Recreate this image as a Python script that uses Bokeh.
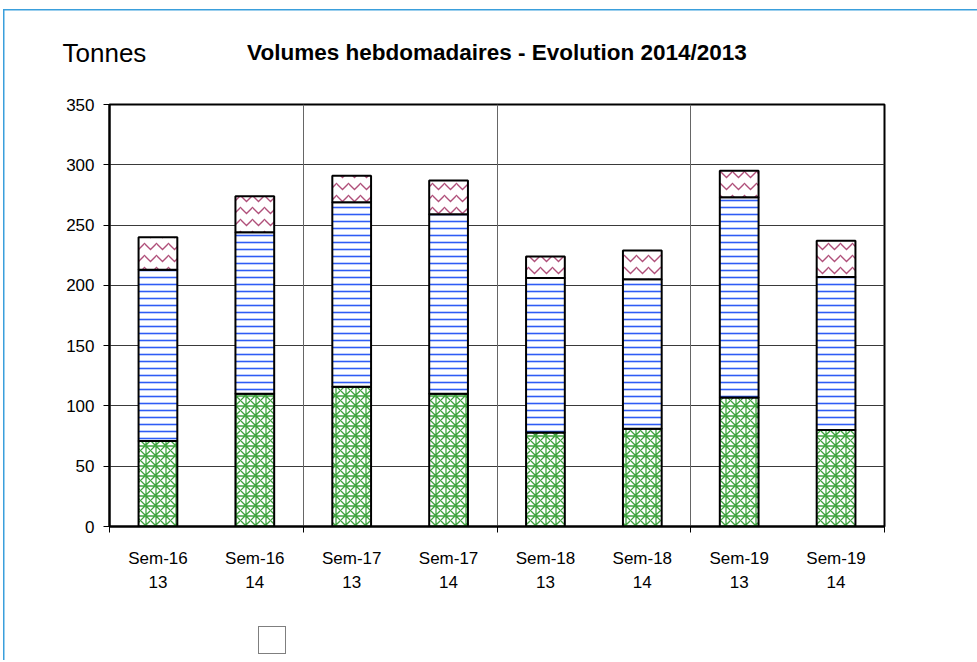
from bokeh.plotting import figure
from bokeh.layouts import column
from bokeh.models import (FixedTicker, Range1d, Grid, Legend, LegendItem, Title,
                          LinearAxis, ColumnDataSource, CDSView, IndexFilter)
from bokeh.embed import file_html
from bokeh.resources import INLINE

weeks = ["Sem-16", "Sem-16", "Sem-17", "Sem-17", "Sem-18", "Sem-18", "Sem-19", "Sem-19"]
years = ["13", "14", "13", "14", "13", "14", "13", "14"]
t1020 = [71, 110, 116, 110, 78, 81, 107, 80]
t3040 = [142, 134, 153, 149, 128, 124, 166, 127]
t50 = [27, 30, 22, 28, 18, 24, 22, 30]
series = ["T10+20", "T30+40", "T50"]
y_ticks = [0, 50, 100, 150, 200, 250, 300, 350]
title_text = "Volumes hebdomadaires - Evolution 2014/2013"
unit_text = "Tonnes"

FONT = "Liberation Sans"
BLUE = "#3a9fdc"
xs = [i + 0.5 for i in range(len(weeks))]
bounds = [float(i) for i in range(0, len(weeks) + 1, 2)]

src = ColumnDataSource(dict(x=xs, a=t1020, b=t3040, c=t50))

hatch_pat = ["*", "-", "v"]
hatch_col = ["#3fa33f", "#2f5cf5", "#b0507a"]
hatch_scale = [10, 7, 12]
hatch_w = [1.3, 1.6, 1.3]

bg_main = (f"linear-gradient({BLUE},{BLUE}) 3px 9px / 1.5px 100% no-repeat, "
           f"linear-gradient({BLUE},{BLUE}) 3px 9px / 100% 1.5px no-repeat, white")
bg_leg = f"linear-gradient({BLUE},{BLUE}) 3px 0px / 1.5px 100% no-repeat, white"

p = figure(width=977, height=596, output_backend="svg", toolbar_location=None,
           x_range=Range1d(0, len(weeks)), y_range=Range1d(0, 350),
           min_border_left=109, min_border_right=93, min_border_top=104,
           min_border_bottom=70, frame_width=775, frame_height=422,
           styles={"background": bg_main})
p.background_fill_color = "white"
p.border_fill_color = None
p.outline_line_color = "black"
p.outline_line_width = 2

renderers = p.vbar_stack(["a", "b", "c"], x="x", width=0.4, source=src,
                         fill_color="white", line_color="black", line_width=2,
                         hatch_pattern=hatch_pat, hatch_color=hatch_col,
                         hatch_scale=hatch_scale, hatch_weight=hatch_w)

# grids
p.xgrid.visible = False
p.ygrid.ticker = FixedTicker(ticks=y_ticks)
p.ygrid.grid_line_color = "#3a3a3a"
p.ygrid.grid_line_width = 1
vg = Grid(dimension=0, ticker=FixedTicker(ticks=bounds[1:-1]),
          grid_line_color="#666666", grid_line_width=1)
p.add_layout(vg)

# y axis
p.yaxis.ticker = FixedTicker(ticks=y_ticks)
p.yaxis.major_tick_in = 0
p.yaxis.major_tick_out = 6
p.yaxis.minor_tick_line_color = None
p.yaxis.axis_line_width = 2
p.yaxis.axis_line_color = "black"
p.yaxis.major_label_text_font = FONT
p.yaxis.major_label_text_font_size = "17px"
p.yaxis.major_label_text_color = "black"
p.yaxis.major_label_standoff = 9

# x axis
p.xaxis.ticker = FixedTicker(ticks=xs, minor_ticks=bounds)
p.xaxis.major_tick_out = 0
p.xaxis.major_tick_in = 0
p.xaxis.minor_tick_out = 6
p.xaxis.minor_tick_in = 0
p.xaxis.minor_tick_line_color = "black"
p.xaxis.minor_tick_line_width = 1
p.xaxis.axis_line_width = 2
p.xaxis.axis_line_color = "black"
p.xaxis.major_label_overrides = {x: f"{w}\n{y}" for x, w, y in zip(xs, weeks, years)}
p.xaxis.major_label_text_font = FONT
p.xaxis.major_label_text_font_size = "17px"
p.xaxis.major_label_text_color = "black"
p.xaxis.major_label_text_line_height = 1.3
p.xaxis.major_label_standoff = 16

# title as label of an (otherwise empty) top axis
top_axis = LinearAxis(ticker=FixedTicker(ticks=[]), axis_line_color=None,
                      major_tick_line_color=None, minor_tick_line_color=None,
                      major_label_text_font_size="1px",
                      axis_label=title_text, axis_label_text_font=FONT,
                      axis_label_text_font_size="22.5px",
                      axis_label_text_font_style="bold",
                      axis_label_text_color="black", axis_label_standoff=40)
p.add_layout(top_axis, "above")
p.title = Title(text=unit_text, align="left", offset=-47, standoff=-62,
                text_font=FONT, text_font_size="26px", text_font_style="normal",
                text_color="black")

# legend in a small strip figure below; its renderers share the data but
# draw no rows (empty view), only their legend swatches show
pl = figure(width=977, height=64, output_backend="svg", toolbar_location=None,
            x_range=Range1d(100, 101), y_range=Range1d(0, 1),
            x_axis_location=None, y_axis_location=None,
            min_border=0, min_border_left=0, min_border_right=0,
            min_border_top=0, min_border_bottom=0,
            styles={"background": bg_leg})
pl.background_fill_color = None
pl.border_fill_color = None
pl.outline_line_color = None
pl.xgrid.visible = False
pl.ygrid.visible = False
leg_r = [pl.vbar(x="x", top=col, width=0.4, source=src,
                 view=CDSView(filter=IndexFilter(indices=[])),
                 fill_color="white", line_color="black", line_width=1.5,
                 hatch_pattern=hp, hatch_color=hc, hatch_scale=5,
                 hatch_weight=1.2)
         for col, hp, hc in zip(["a", "b", "c"], hatch_pat, hatch_col)]
items = [LegendItem(label=s, renderers=[r], index=0) for s, r in zip(series, leg_r)]
legend = Legend(items=items, orientation="horizontal", location=(149, 6),
                label_text_font=FONT, label_text_font_size="19px",
                label_text_color="black",
                glyph_width=13, glyph_height=13, label_standoff=3, spacing=108,
                label_width=69, padding=13, border_line_color="black",
                border_line_width=1, margin=0, background_fill_color="white")
pl.add_layout(legend, "center")

layout = column(p, pl, spacing=0)
open("out.html", "w").write(file_html(layout, INLINE))
